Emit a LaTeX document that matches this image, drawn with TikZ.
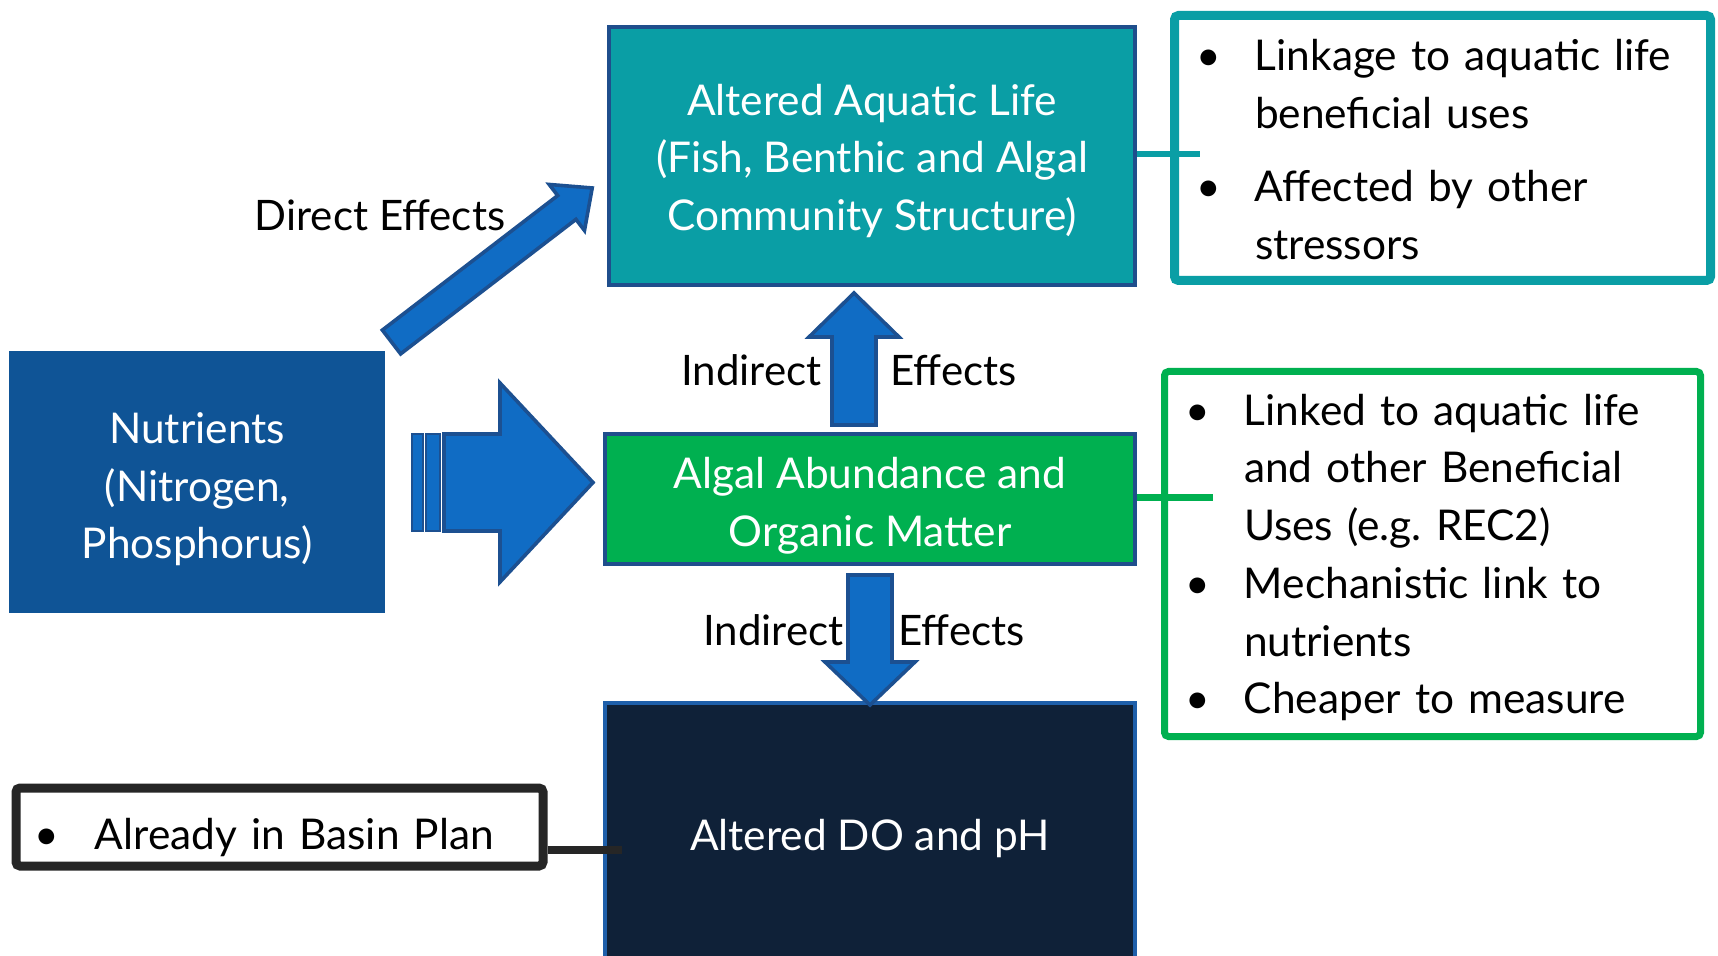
\documentclass[tikz,border=0pt]{standalone}
\usepackage{fontspec}
\setmainfont{Lato}
\usetikzlibrary{calc}
\definecolor{teal1}{RGB}{10,158,165}
\definecolor{grn}{RGB}{0,176,80}
\definecolor{navy}{RGB}{15,33,56}
\definecolor{nutblue}{RGB}{15,84,150}
\definecolor{arrblue}{RGB}{16,108,196}
\definecolor{arrbord}{RGB}{28,80,145}
\definecolor{boxbord}{RGB}{31,78,140}
\definecolor{cbord}{RGB}{30,95,170}
\definecolor{dgray}{RGB}{38,38,38}
\newcommand\lowerit[2]{\raisebox{-#1}[\height][\depth]{#2}}
\begin{document}
\begin{tikzpicture}[x=0.5pt,y=-0.5pt,
  box/.style={draw=boxbord,line width=2pt,inner sep=0pt,text=white,align=center,font=\fontsize{21.2}{28.85}\selectfont},
  listbox/.style={fill=white,inner ysep=0pt,align=left,text=black,font=\fontsize{21.2}{28.85}\selectfont},
  lbl/.style={inner sep=0pt,text=black,font=\fontsize{21}{25}\selectfont},
  blockarrow/.style={fill=arrblue,draw=arrbord,line width=1.8pt,line join=miter}]
\useasboundingbox (0,0) rectangle (1718,956);
% main boxes
\node[box,fill=teal1,minimum width=263pt,minimum height=129pt] (A) at (872,156) {\lowerit{2.6pt}{\begin{tabular}{@{}c@{}}Altered Aquatic Life\\(Fish, Benthic and Algal\\Community Structure)\end{tabular}}};
\node[box,fill=grn,minimum width=265pt,minimum height=65pt] (B) at (870,499) {\lowerit{3.6pt}{\begin{tabular}{@{}c@{}}Algal Abundance and\\Organic Matter\end{tabular}}};
\node[box,draw=cbord,fill=navy,minimum width=265pt,minimum height=132pt] (C) at (870,835) {\lowerit{2.1pt}{\begin{tabular}{@{}c@{}}Altered DO and pH\end{tabular}}};
\node[box,draw=nutblue,fill=nutblue,minimum width=186pt,minimum height=129pt] (N) at (197,482) {\lowerit{3.8pt}{\begin{tabular}{@{}c@{}}Nutrients\\(Nitrogen,\\Phosphorus)\end{tabular}}};
% text frames
\node[listbox,draw=teal1,line width=4.5pt,minimum height=132.5pt,text width=246.5pt,inner xsep=10.75pt,rounded corners=2pt] (T1) at (1442.5,148) {\lowerit{2.8pt}{%
\begin{tabular}{@{}p{29.5pt}@{}l@{}}
\textbullet & Linkage to aquatic life\\
 & beneficial uses\\[8pt]
\textbullet & Affected by other\\
 & stressors
\end{tabular}}};
\node[listbox,draw=grn,line width=3.5pt,minimum height=182.5pt,text width=247.5pt,inner xsep=10.25pt,rounded corners=2pt] (T2) at (1432.5,554) {\lowerit{2pt}{%
\begin{tabular}{@{}p{29.5pt}@{}l@{}}
\textbullet & Linked to aquatic life\\
 & and other Beneficial\\
 & Uses (e.g.\ REC2)\\
\textbullet & Mechanistic link to\\
 & nutrients\\
\textbullet & Cheaper to measure
\end{tabular}}};
\node[listbox,draw=dgray,line width=4.5pt,minimum height=39pt,text width=245.5pt,inner xsep=9pt,rounded corners=2pt] (T3) at (279.5,827) {\lowerit{5.6pt}{%
\begin{tabular}{@{}p{30.5pt}@{}l@{}}
\textbullet & Already in Basin Plan
\end{tabular}}};
% connectors
\coordinate (c1) at (1200,154);
\draw[teal1,line width=3pt] (A.east |- c1) -- (c1);
\coordinate (c2) at (1213,498);
\draw[grn,line width=3.5pt] (B.east |- c2) -- (c2);
\coordinate (c3) at (622,850);
\draw[dgray,line width=4pt] (T3.east |- c3) -- (c3);
% block arrows
\coordinate (dtail) at (391.5,342);
\draw[blockarrow,shift={(dtail)},rotate=37.5] (0,-15) -- (221,-15) -- (221,-29) -- (253,0) -- (221,29) -- (221,15) -- (0,15) -- cycle;
\coordinate (utail) at (854,425);
\draw[blockarrow,shift={(utail)},rotate=90] (0,-22) -- (88,-22) -- (88,-45) -- (132,0) -- (88,45) -- (88,22) -- (0,22) -- cycle;
\coordinate (dntail) at (870,575);
\draw[blockarrow,shift={(dntail)},rotate=-90] (0,-22) -- (87,-22) -- (87,-45) -- (130,0) -- (87,45) -- (87,22) -- (0,22) -- cycle;
\draw[blockarrow,line width=1pt] (412,434) rectangle (423,531);
\draw[blockarrow,line width=1pt] (426,434) rectangle (440,531);
\draw[blockarrow] (444,434) -- (500,434) -- (500,383) -- (593,482.5) -- (500,582) -- (500,531) -- (444,531) -- cycle;
% labels
\node[lbl] (de) at (380,215) {Direct Effects};
\node[lbl,anchor=east] (i1) at (822,370) {Indirect};
\node[lbl,anchor=west] (e1) at (890,370) {Effects};
\node[lbl,anchor=east] (i2) at (844,630) {Indirect};
\node[lbl,anchor=west] (e2) at (898,630) {Effects};
\end{tikzpicture}
\end{document}
